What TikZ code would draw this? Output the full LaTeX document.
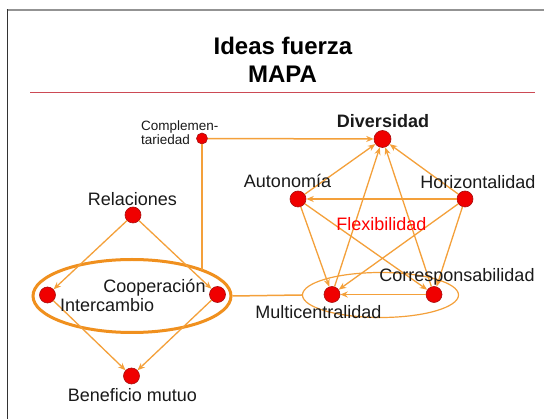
\documentclass[tikz,border=0pt]{standalone}
\usepackage{fontspec}
\setmainfont{Liberation Sans}
\usetikzlibrary{arrows.meta,shapes.geometric}
\definecolor{orng}{HTML}{F4A03A}
\definecolor{orngdark}{HTML}{F0901E}
\definecolor{dotred}{HTML}{F00000}
\definecolor{dotedge}{HTML}{A81010}
\definecolor{rulered}{HTML}{CC4A55}
\definecolor{txt}{HTML}{1A1A1A}
\begin{document}
\begin{tikzpicture}[x=1pt,y=-1pt,
  dot/.style={circle,fill=dotred,draw=dotedge,line width=0.6pt,inner sep=0pt,minimum size=16pt},
  sdot/.style={dot,minimum size=11pt},
  lbl/.style={font=\fontsize{18}{20}\selectfont,text=txt,inner sep=0pt,anchor=base},
  small/.style={font=\fontsize{13.5}{15}\selectfont,text=txt,inner sep=0pt,anchor=base west},
  ttl/.style={font=\fontsize{24}{28}\selectfont\bfseries,text=black,inner sep=0pt,anchor=base},
  link/.style={draw=orng,line width=1.3pt,-{Stealth[length=7.5pt,width=6pt]}},
  plain/.style={draw=orng,line width=1.5pt}]
\useasboundingbox (0,0) rectangle (544,419);
\fill[white] (0,0) rectangle (544,419);
% frame
\draw[color=gray!85,line width=1.6pt] (6.5,10) -- (544,10);
\draw[color=black!80,line width=1.6pt] (7.3,9.2) -- (7.3,419);
% title
\node[ttl] (t1) at (283,55) {Ideas fuerza};
\node[ttl] (t2) at (282.5,82.7) {MAPA};
\draw[color=rulered,line width=1pt] (30,92.7) -- (535,92.7);
% ellipses
\node[draw=orngdark,line width=3pt,ellipse,minimum width=198pt,minimum height=73pt,inner sep=0pt] (big) at (132,296) {};
\node[draw=orng,line width=1.2pt,ellipse,minimum width=156pt,minimum height=45pt,inner sep=0pt] (sml) at (380.5,295) {};
% dots
\node[dot,minimum size=17pt] (div) at (382.5,139) {};
\node[dot] (aut) at (298,199) {};
\node[dot] (hor) at (465,199) {};
\node[dot] (mul) at (332,294.5) {};
\node[dot] (cor) at (434,294.5) {};
\node[sdot] (com) at (202,138.5) {};
\node[dot] (rel) at (133,215) {};
\node[dot] (int) at (47.5,295) {};
\node[dot] (coo) at (217.5,294.5) {};
\node[dot] (ben) at (131.5,376) {};
\coordinate (comdown) at (202,270.5);
% connectors
\draw[plain] (com) -- (comdown);
\draw[plain] (big.east) -- (sml.west);
\draw[link,line width=1.5pt] (com) -- (div);
\draw[link] (aut) -- (div);
\draw[link] (hor) -- (div);
\draw[link] (mul) -- (div);
\draw[link] (cor) -- (div);
\draw[link,line width=2pt] (hor) -- (aut);
\draw[link] (aut) -- (mul);
\draw[link] (aut) -- (cor);
\draw[link] (hor) -- (mul);
\draw[link] (hor) -- (cor);
\draw[link] (cor) -- (mul);
\draw[link] (rel) -- (int);
\draw[link] (rel) -- (coo);
\draw[link] (int) -- (ben);
\draw[link] (coo) -- (ben);
% labels
\node[lbl,font=\fontsize{18}{20}\selectfont\bfseries] (ldiv) at (383,128) {Diversidad};
\node[lbl] (laut) at (287.5,188) {Autonomía};
\node[lbl] (lhor) at (478,189) {Horizontalidad};
\node[lbl,text=red] (lflex) at (381.5,231) {Flexibilidad};
\node[lbl] (lcor) at (457,282) {Corresponsabilidad};
\node[lbl] (lmul) at (318.3,319) {Multicentralidad};
\node[lbl] (lrel) at (132.3,206) {Relaciones};
\node[lbl] (lcoo) at (154.5,292.5) {Cooperación};
\node[lbl] (lint) at (107.2,312) {Intercambio};
\node[lbl] (lben) at (132.5,401.5) {Beneficio mutuo};
\node[small] (lcom1) at (141,130.5) {Complemen-};
\node[small] (lcom2) at (141,145) {tariedad};
\end{tikzpicture}
\end{document}
